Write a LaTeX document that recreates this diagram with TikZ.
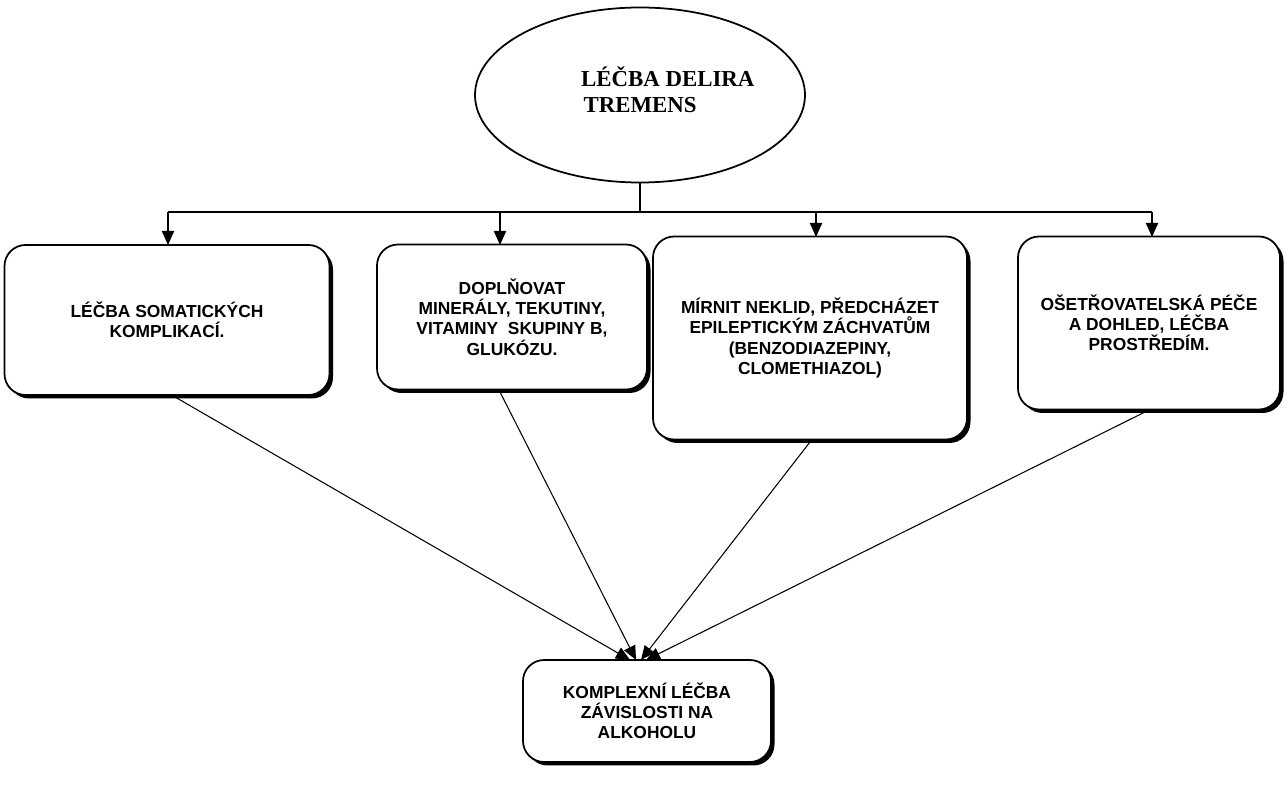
\documentclass[tikz,border=0pt]{standalone}
\usepackage{fontspec}
\setsansfont{Liberation Sans}
\setmainfont{Liberation Serif}
\usetikzlibrary{shapes.geometric,shadows,arrows.meta}
\begin{document}
\begin{tikzpicture}[x=0.02cm,y=-0.02cm,
  box/.style={draw,line width=1pt,rounded corners=12pt,fill=white,align=center,
    font=\sffamily\bfseries\fontsize{9.9pt}{11.5pt}\selectfont,
    drop shadow={shadow xshift=0.07cm,shadow yshift=-0.07cm,fill=black,opacity=1}},
  arr/.style={-{Triangle[length=8pt,width=7pt]},line width=0.6pt}]
\useasboundingbox (0,0) rectangle (1286,800);
\node[draw,ellipse,line width=1pt,minimum width=330*0.02cm,minimum height=175*0.02cm] (e) at (640,95) {};
\node[font=\rmfamily\bfseries\fontsize{13pt}{15pt}\selectfont,align=left,anchor=north west] (et) at (575,60)
  {LÉČBA DELIRA\\\hspace*{0.05cm}TREMENS};
\node[box,minimum width=325*0.02cm,minimum height=150*0.02cm] (b1) at (167,320) {LÉČBA SOMATICKÝCH\\KOMPLIKACÍ.};
\node[box,minimum width=270*0.02cm,minimum height=145*0.02cm] (b2) at (512,317) {DOPLŇOVAT\\MINERÁLY, TEKUTINY,\\VITAMINY\ \ SKUPINY B,\\GLUKÓZU.};
\node[box,minimum width=314*0.02cm,minimum height=203*0.02cm] (b3) at (810,338) {MÍRNIT NEKLID, PŘEDCHÁZET\\EPILEPTICKÝM ZÁCHVATŮM\\(BENZODIAZEPINY,\\CLOMETHIAZOL)};
\node[box,minimum width=262*0.02cm,minimum height=173*0.02cm] (b4) at (1149,323) {OŠETŘOVATELSKÁ PÉČE\\A DOHLED, LÉČBA\\PROSTŘEDÍM.};
\node[box,minimum width=248*0.02cm,minimum height=102*0.02cm] (k) at (647,711) {KOMPLEXNÍ LÉČBA\\ZÁVISLOSTI NA\\ALKOHOLU};
\coordinate (h1) at (168,212); \coordinate (h4) at (1152,212);
\draw[line width=0.6pt] (e.south) -- (640,212);
\draw[line width=0.6pt] (h1) -- (h4);
\draw[arr] (h1) -- (168,245);
\draw[arr] (500,212) -- (500,245);
\draw[arr] (816,212) -- (816,237);
\draw[arr] (h4) -- (1152,237);
\draw[arr] (175,397) -- (630,660);
\draw[arr] (500,392) -- (636,660);
\draw[arr] (810,442) -- (641,660);
\draw[arr] (1145,412) -- (646,660);
\end{tikzpicture}
\end{document}
